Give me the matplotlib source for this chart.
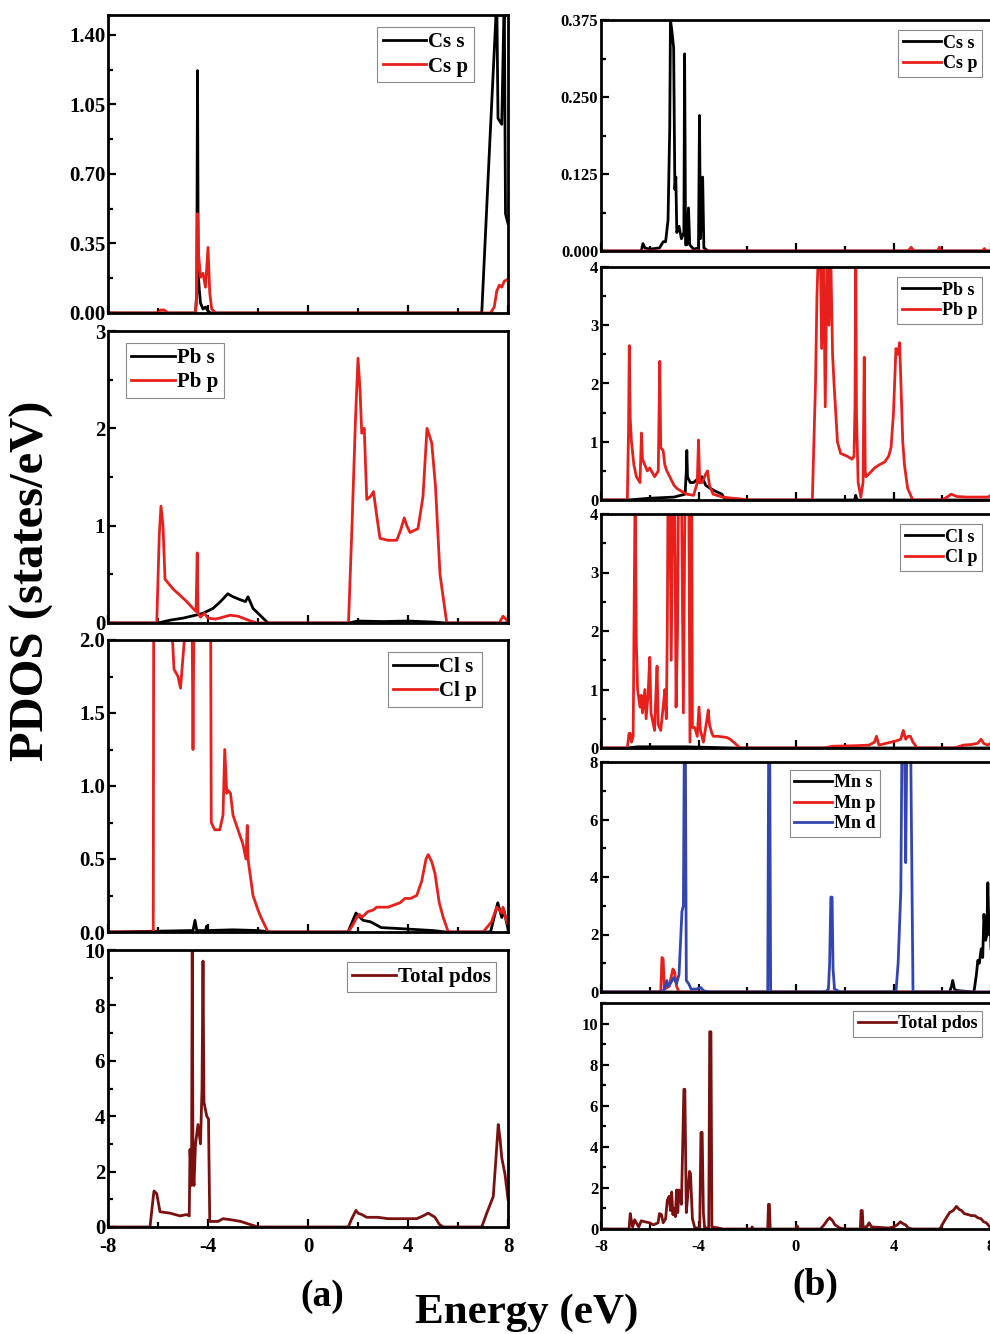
import numpy as np
import matplotlib
matplotlib.use("Agg")
import matplotlib.pyplot as plt
from matplotlib.ticker import AutoMinorLocator

plt.rcParams["font.family"] = ["Liberation Serif", "DejaVu Serif"]
plt.rcParams["font.weight"] = "bold"
plt.rcParams["axes.unicode_minus"] = False

# ---- (a) CsPbCl3 : (energy, pdos) pairs ----
a_cs_s = [(-8, 0), (-4.5, 0), (-4.45, 0.1), (-4.42, 1.22), (-4.39, 0.2), (-4.35, 0.12),
          (-4.3, 0.05), (-4.2, 0.02), (-4.1, 0.03), (-4.0, 0.01), (-3.9, 0), (6.95, 0),
          (7.25, 0.8), (7.5, 1.45), (7.55, 1.6), (7.6, 0.98), (7.75, 0.95), (7.85, 1.6),
          (7.9, 0.5), (8, 0.45)]
a_cs_p = [(-8, 0), (-6.0, 0), (-5.9, 0.015), (-5.75, 0.015), (-5.6, 0), (-4.5, 0),
          (-4.45, 0.1), (-4.42, 0.5), (-4.38, 0.3), (-4.3, 0.18), (-4.2, 0.2), (-4.1, 0.13),
          (-4.0, 0.33), (-3.93, 0.1), (-3.85, 0.02), (-3.7, 0), (7.3, 0), (7.45, 0.03),
          (7.55, 0.11), (7.65, 0.14), (7.75, 0.13), (7.85, 0.16), (8, 0.17)]
a_pb_s = [(-8, 0), (-6.0, 0), (-5.5, 0.03), (-5.0, 0.05), (-4.5, 0.08), (-4.2, 0.1),
          (-3.8, 0.15), (-3.5, 0.22), (-3.21, 0.3), (-3.0, 0.27), (-2.72, 0.24), (-2.5, 0.22),
          (-2.4, 0.27), (-2.2, 0.15), (-1.92, 0.08), (-1.6, 0), (1.6, 0), (2.0, 0.02),
          (3.0, 0.015), (4.0, 0.02), (5.0, 0.01), (5.5, 0), (8, 0)]
a_pb_p = [(-8, 0), (-6.05, 0), (-5.95, 0.9), (-5.88, 1.2), (-5.8, 1.0), (-5.72, 0.45),
          (-5.4, 0.35), (-5.1, 0.28), (-4.85, 0.22), (-4.6, 0.15), (-4.48, 0.12), (-4.43, 0.72),
          (-4.4, 0.1), (-4.3, 0.06), (-4.15, 0.1), (-4.0, 0.05), (-3.7, 0.04), (-3.4, 0.06),
          (-3.12, 0.08), (-2.8, 0.07), (-2.4, 0.03), (-2.04, 0), (1.62, 0), (1.76, 1.0),
          (1.9, 2.1), (2.0, 2.72), (2.08, 2.4), (2.15, 1.95), (2.25, 2.0), (2.35, 1.27),
          (2.5, 1.3), (2.62, 1.35), (2.75, 1.1), (2.88, 0.87), (3.2, 0.85), (3.55, 0.85),
          (3.7, 0.95), (3.85, 1.08), (3.95, 1.0), (4.08, 0.93), (4.4, 0.97), (4.6, 1.3),
          (4.76, 2.0), (4.95, 1.85), (5.1, 1.4), (5.28, 0.5), (5.55, 0), (7.65, 0),
          (7.8, 0.07), (7.95, 0.03), (8, 0)]
a_cl_s = [(-8, 0), (-6.2, 0.005), (-4.6, 0.01), (-4.52, 0.08), (-4.45, 0.01), (-4.1, 0.01),
          (-4.05, 0.04), (-4.0, 0.01), (-3.0, 0.015), (-2.0, 0.01), (-1.5, 0), (1.6, 0),
          (1.92, 0.13), (2.2, 0.08), (2.5, 0.07), (2.93, 0.03), (3.5, 0.025), (4.0, 0.02),
          (5.0, 0.01), (5.5, 0), (7.3, 0), (7.59, 0.2), (7.75, 0.1), (7.85, 0.14), (8, 0.02)]
a_cl_p = [(-8, 0), (-6.19, 0), (-6.17, 2.5), (-5.6, 2.5), (-5.45, 2.1), (-5.36, 1.8),
          (-5.2, 1.75), (-5.1, 1.67), (-4.9, 2.1), (-4.8, 2.5), (-4.65, 2.5), (-4.6, 1.25),
          (-4.55, 2.5), (-4.5, 2.5), (-4.2, 2.5), (-3.9, 2.5), (-3.87, 0.75), (-3.73, 0.7),
          (-3.53, 0.7), (-3.4, 0.8), (-3.33, 1.25), (-3.25, 0.95), (-3.2, 0.97), (-3.1, 0.95),
          (-3.0, 0.8), (-2.8, 0.7), (-2.6, 0.6), (-2.48, 0.5), (-2.43, 0.73), (-2.4, 0.5),
          (-2.2, 0.25), (-2.0, 0.15), (-1.88, 0.1), (-1.6, 0), (1.61, 0), (1.8, 0.05),
          (1.95, 0.1), (2.05, 0.12), (2.15, 0.1), (2.4, 0.14), (2.6, 0.15), (2.75, 0.17),
          (3.2, 0.17), (3.68, 0.2), (3.88, 0.23), (4.1, 0.23), (4.35, 0.25), (4.55, 0.35),
          (4.72, 0.5), (4.81, 0.53), (4.95, 0.48), (5.08, 0.4), (5.25, 0.2), (5.41, 0.1),
          (5.61, 0), (7.0, 0), (7.2, 0.04), (7.34, 0.07), (7.55, 0.17), (7.65, 0.15),
          (7.75, 0.13), (7.8, 0.17), (7.9, 0.1), (8, 0.05)]
a_total = [(-8, 0), (-6.32, 0), (-6.2, 1.0), (-6.16, 1.3), (-6.05, 1.2), (-5.92, 0.55),
           (-5.52, 0.5), (-5.12, 0.4), (-4.85, 0.45), (-4.75, 0.4), (-4.72, 2.8), (-4.66, 1.5),
           (-4.63, 10.0), (-4.6, 2.0), (-4.56, 1.5), (-4.5, 3.0), (-4.4, 3.7), (-4.3, 3.0),
           (-4.24, 5.0), (-4.2, 9.6), (-4.16, 4.5), (-4.05, 4.0), (-3.98, 3.9), (-3.93, 0.2),
           (-3.6, 0.2), (-3.4, 0.3), (-3.0, 0.25), (-2.69, 0.2), (-2.35, 0.1), (-2.0, 0),
           (1.61, 0), (1.75, 0.3), (1.92, 0.6), (2.0, 0.5), (2.15, 0.45), (2.35, 0.35),
           (2.8, 0.35), (3.2, 0.3), (3.68, 0.3), (4.0, 0.3), (4.35, 0.3), (4.6, 0.4),
           (4.81, 0.5), (5.08, 0.35), (5.25, 0.1), (5.41, 0), (6.95, 0), (7.15, 0.5),
           (7.41, 1.1), (7.52, 2.5), (7.61, 3.7), (7.68, 3.2), (7.75, 2.5), (7.88, 1.9), (8, 1.0)]

# ---- (b) Mn doped ----
b_cs_s = [(-8, 0), (-6.35, 0), (-6.28, 0.012), (-6.2, 0.005), (-6.0, 0.003), (-5.6, 0.005),
          (-5.45, 0.015), (-5.35, 0.015), (-5.25, 0.05), (-5.18, 0.2), (-5.15, 0.375),
          (-5.1, 0.36), (-5.02, 0.33), (-4.97, 0.1), (-4.93, 0.12), (-4.89, 0.03), (-4.8, 0.04),
          (-4.7, 0.02), (-4.6, 0.03), (-4.57, 0.32), (-4.53, 0.01), (-4.48, 0.01), (-4.41, 0.07),
          (-4.36, 0.01), (-4.2, 0.003), (-4.0, 0.005), (-3.96, 0.22), (-3.92, 0.02),
          (-3.83, 0.12), (-3.78, 0.005), (-3.6, 0), (8, 0)]
b_cs_p = [(-8, 0), (4.6, 0), (4.72, 0.006), (4.85, 0), (5.8, 0), (5.88, 0.006), (5.95, 0),
          (7.65, 0), (7.73, 0.004), (7.8, 0), (8, 0)]
b_pb_s = [(-8, 0), (-6.9, 0), (-6.0, 0.03), (-5.0, 0.05), (-4.55, 0.1), (-4.5, 0.5),
          (-4.48, 0.85), (-4.45, 0.4), (-4.34, 0.3), (-4.2, 0.3), (-4.07, 0.35), (-3.95, 0.3),
          (-3.86, 0.4), (-3.7, 0.25), (-3.52, 0.2), (-3.3, 0.15), (-3.04, 0.1), (-2.9, 0),
          (2.4, 0), (2.45, 0.08), (2.5, 0), (8, 0)]
b_pb_p = [(-8, 0), (-6.92, 0), (-6.87, 1.2), (-6.84, 2.65), (-6.8, 1.4), (-6.75, 1.0),
          (-6.65, 0.6), (-6.55, 0.4), (-6.4, 0.3), (-6.34, 1.15), (-6.3, 0.7), (-6.2, 0.6),
          (-6.1, 0.5), (-6.0, 0.55), (-5.8, 0.4), (-5.65, 0.5), (-5.59, 2.38), (-5.55, 0.9),
          (-5.45, 0.85), (-5.38, 0.6), (-5.3, 0.5), (-5.18, 0.4), (-5.0, 0.25), (-4.89, 0.2),
          (-4.7, 0.15), (-4.48, 0.1), (-4.2, 0.08), (-4.05, 0.3), (-4.0, 1.03), (-3.95, 0.3),
          (-3.85, 0.3), (-3.7, 0.45), (-3.63, 0.5), (-3.55, 0.25), (-3.4, 0.1), (-3.0, 0.05),
          (-2.6, 0.03), (-2.3, 0.02), (-2.0, 0), (0.67, 0), (0.8, 2.0), (0.86, 3.5), (0.92, 4.3),
          (0.99, 4.5), (1.05, 2.6), (1.12, 4.5), (1.2, 1.6), (1.28, 4.4), (1.35, 3.0),
          (1.42, 4.3), (1.5, 2.5), (1.56, 2.0), (1.7, 1.0), (1.83, 0.8), (2.11, 0.75),
          (2.3, 0.7), (2.38, 0.75), (2.42, 1.6), (2.45, 4.5), (2.48, 1.5), (2.55, 0.3),
          (2.66, 0.05), (2.75, 0.3), (2.8, 2.45), (2.84, 0.5), (2.87, 0.4), (3.0, 0.45),
          (3.22, 0.55), (3.4, 0.6), (3.63, 0.65), (3.8, 0.75), (3.9, 0.9), (4.0, 1.5),
          (4.1, 2.6), (4.18, 2.5), (4.25, 2.7), (4.32, 1.8), (4.38, 1.0), (4.45, 0.6),
          (4.58, 0.2), (4.79, 0), (6.0, 0), (6.2, 0.05), (6.36, 0.1), (6.6, 0.06), (7.0, 0.05),
          (7.5, 0.05), (7.87, 0.05), (8, 0.08)]
b_cl_s = [(-8, 0), (-6.9, 0), (-6.5, 0.02), (-5.5, 0.02), (-4.5, 0.02), (-3.5, 0.01),
          (-2.5, 0), (8, 0)]
b_cl_p = [(-8, 0), (-6.92, 0), (-6.85, 0.25), (-6.8, 0.25), (-6.75, 0.1), (-6.68, 0.2),
          (-6.6, 4.5), (-6.55, 1.8), (-6.5, 1.0), (-6.4, 0.7), (-6.35, 0.9), (-6.3, 0.6),
          (-6.2, 1.0), (-6.15, 0.5), (-6.07, 0.9), (-6.0, 1.55), (-5.95, 0.6), (-5.8, 0.3),
          (-5.75, 0.9), (-5.7, 1.4), (-5.65, 0.4), (-5.55, 0.3), (-5.45, 0.7), (-5.38, 1.0),
          (-5.32, 0.5), (-5.28, 2.0), (-5.25, 4.5), (-5.18, 4.5), (-5.12, 1.5), (-5.05, 4.5),
          (-4.98, 4.5), (-4.92, 0.7), (-4.86, 2.0), (-4.82, 4.5), (-4.7, 4.5), (-4.62, 0.6),
          (-4.55, 4.5), (-4.4, 4.5), (-4.35, 0.1), (-4.28, 4.5), (-4.25, 0.35), (-4.15, 0.35),
          (-4.05, 0.2), (-3.98, 0.7), (-3.92, 0.3), (-3.8, 0.1), (-3.65, 0.5), (-3.6, 0.65),
          (-3.55, 0.4), (-3.45, 0.25), (-3.39, 0.2), (-3.2, 0.2), (-2.84, 0.18), (-2.7, 0.15),
          (-2.56, 0.1), (-2.29, 0), (1.15, 0), (1.5, 0.03), (2.5, 0.04), (3.0, 0.05),
          (3.22, 0.1), (3.3, 0.2), (3.4, 0.05), (3.7, 0.08), (3.9, 0.1), (4.1, 0.12),
          (4.3, 0.15), (4.4, 0.3), (4.5, 0.15), (4.6, 0.2), (4.69, 0.2), (4.8, 0.1), (4.97, 0),
          (6.5, 0), (6.88, 0.05), (7.2, 0.06), (7.45, 0.08), (7.59, 0.15), (7.7, 0.08),
          (7.85, 0.05), (8, 0.08)]
b_mn_s = [(-8, 0), (6.3, 0), (6.38, 0.2), (6.43, 0.4), (6.5, 0.1), (6.6, 0.05), (7.3, 0),
          (7.4, 0.6), (7.46, 1.1), (7.52, 1.0), (7.6, 1.5), (7.66, 1.2), (7.71, 2.7),
          (7.78, 1.8), (7.83, 2.0), (7.87, 3.8), (7.92, 2.0), (7.96, 2.6), (8, 1.5)]
b_mn_p = [(-8, 0), (-5.55, 0), (-5.5, 1.2), (-5.45, 1.15), (-5.4, 0.1), (-5.2, 0.2),
          (-5.05, 0.8), (-4.98, 0.7), (-4.9, 0.2), (-4.8, 0), (8, 0)]
b_mn_d = [(-8, 0), (-5.5, 0), (-5.4, 0.1), (-5.3, 0.4), (-5.25, 0.2), (-5.15, 0.3),
          (-5.02, 0.5), (-4.9, 0.3), (-4.8, 0.6), (-4.75, 1.5), (-4.68, 2.8), (-4.62, 3.0),
          (-4.58, 9), (-4.54, 9), (-4.5, 0.4), (-4.41, 0.3), (-4.3, 0.1), (-4.1, 0.1),
          (-3.9, 0.15), (-3.8, 0.05), (-3.6, 0), (-1.16, 0), (-1.12, 9), (-1.08, 9),
          (-1.04, 0), (1.2, 0), (1.33, 0.1), (1.38, 1.0), (1.43, 3.3), (1.48, 3.3), (1.52, 0.8),
          (1.58, 0.1), (1.7, 0.05), (1.8, 0), (4.1, 0), (4.19, 1.0), (4.3, 3.5), (4.35, 9),
          (4.45, 9), (4.5, 4.5), (4.55, 9), (4.7, 9), (4.8, 0), (8, 0)]
b_total = [(-8, 0), (-6.85, 0), (-6.8, 0.75), (-6.74, 0.3), (-6.7, 0.1), (-6.62, 0.45),
           (-6.55, 0.3), (-6.45, 0.1), (-6.35, 0.4), (-6.2, 0.35), (-6.0, 0.3), (-5.85, 0.2),
           (-5.66, 0.3), (-5.6, 0.75), (-5.52, 0.7), (-5.45, 0.3), (-5.35, 0.5), (-5.28, 1.4),
           (-5.2, 1.6), (-5.15, 0.9), (-5.1, 1.8), (-5.05, 0.7), (-5.0, 1.0), (-4.95, 0.6),
           (-4.9, 1.9), (-4.85, 0.8), (-4.8, 1.9), (-4.7, 1.2), (-4.6, 6.8), (-4.56, 6.8),
           (-4.5, 0.8), (-4.45, 1.5), (-4.37, 2.8), (-4.33, 2.7), (-4.25, 0.5), (-4.15, 0.05),
           (-3.95, 0.05), (-3.9, 4.7), (-3.85, 4.7), (-3.8, 0.8), (-3.75, 0.05), (-3.58, 0.05),
           (-3.54, 9.6), (-3.49, 9.6), (-3.45, 0.1), (-3.2, 0.05), (-3.0, 0), (-1.85, 0),
           (-1.8, 0.1), (-1.75, 0), (-1.16, 0), (-1.13, 1.2), (-1.09, 1.2), (-1.06, 0), (0.0, 0),
           (0.05, 0.15), (0.1, 0), (1.0, 0), (1.15, 0.2), (1.3, 0.45), (1.38, 0.55), (1.5, 0.4),
           (1.6, 0.2), (1.8, 0.05), (2.0, 0), (2.64, 0), (2.67, 0.9), (2.72, 0.9), (2.75, 0.1),
           (2.9, 0.1), (3.0, 0.3), (3.1, 0.1), (3.8, 0.05), (4.0, 0.1), (4.15, 0.2),
           (4.28, 0.35), (4.4, 0.25), (4.5, 0.2), (4.6, 0.05), (4.8, 0), (5.9, 0), (6.09, 0.4),
           (6.3, 0.8), (6.45, 0.9), (6.58, 1.1), (6.7, 0.95), (6.79, 0.9), (6.9, 0.75),
           (7.06, 0.7), (7.2, 0.65), (7.34, 0.65), (7.45, 0.55), (7.59, 0.5), (7.7, 0.35),
           (7.81, 0.3), (7.95, 0.1), (8, 0.05)]

BLACK, RED, BLUE, DRED = "black", "#e8201c", "#3346b0", "#7a1010"

W, H = 990, 1334
fig = plt.figure(figsize=(W / 100, H / 100), dpi=100)


def make_ax(x0, x1, top, bottom):
    return fig.add_axes([x0 / W, 1 - bottom / H, (x1 - x0) / W, (bottom - top) / H])


def style(ax, yticks, fmt, fs, show_x, ylim):
    ax.set_xlim(-8, 8)
    ax.set_ylim(*ylim)
    ax.set_xticks([-8, -4, 0, 4, 8])
    ax.xaxis.set_minor_locator(AutoMinorLocator(2))
    ax.set_yticks(yticks)
    ax.yaxis.set_minor_locator(AutoMinorLocator(2))
    ax.set_yticklabels([fmt.format(v) for v in yticks])
    ax.tick_params(which="both", direction="in", top=False, right=False, width=1.6)
    ax.tick_params(which="major", length=6, labelsize=fs, pad=2)
    ax.tick_params(which="minor", length=3.5)
    ax.tick_params(axis="x", pad=7)
    if not show_x:
        ax.tick_params(axis="x", labelbottom=False)
    for s in ax.spines.values():
        s.set_linewidth(2.0)


def draw(ax, series, lw=2.0):
    for data, color, label in series:
        e, v = np.array(data).T
        ax.plot(e, v, color=color, lw=lw, label=label)


def legend(ax, fs, **kw):
    leg = ax.legend(fontsize=fs, frameon=True, fancybox=False, framealpha=1,
                    edgecolor="#8a8a8a", handlelength=2.1, handletextpad=0.1,
                    borderpad=0.25, labelspacing=0.2, borderaxespad=0.3, **kw)
    leg.get_frame().set_linewidth(0.8)
    for t in leg.get_texts():
        t.set_fontweight("bold")
    return leg


LX0, LX1 = 108, 508
RX0, RX1 = 601, 991
FL, FR = 15, 12
LL, LR = 15, 13

ax = make_ax(LX0, LX1, 15, 313)
draw(ax, [(a_cs_s, BLACK, "Cs s"), (a_cs_p, RED, "Cs p")])
style(ax, [0, 0.35, 0.70, 1.05, 1.40], "{:.2f}", FL, False, (0, 1.5))
legend(ax, LL, loc="upper right", bbox_to_anchor=(0.93, 0.98))

ax = make_ax(LX0, LX1, 331, 623)
draw(ax, [(a_pb_s, BLACK, "Pb s"), (a_pb_p, RED, "Pb p")])
style(ax, [0, 1, 2, 3], "{:d}", FL, False, (0, 3))
legend(ax, LL, loc="upper left", bbox_to_anchor=(0.03, 0.98))

ax = make_ax(LX0, LX1, 640, 932)
draw(ax, [(a_cl_s, BLACK, "Cl s"), (a_cl_p, RED, "Cl p")])
style(ax, [0, 0.5, 1.0, 1.5, 2.0], "{:.1f}", FL, False, (0, 2))
legend(ax, LL, loc="upper right", bbox_to_anchor=(0.95, 0.98))

ax = make_ax(LX0, LX1, 950, 1227)
draw(ax, [(a_total, DRED, "Total pdos")])
style(ax, [0, 2, 4, 6, 8, 10], "{:d}", FL, True, (0, 10))
legend(ax, LL, loc="upper right", bbox_to_anchor=(0.985, 0.98))

ax = make_ax(RX0, RX1, 20, 251)
draw(ax, [(b_cs_s, BLACK, "Cs s"), (b_cs_p, RED, "Cs p")])
style(ax, [0, 0.125, 0.25, 0.375], "{:.3f}", FR, False, (0, 0.375))
legend(ax, LR, loc="upper right", bbox_to_anchor=(0.99, 0.98))

ax = make_ax(RX0, RX1, 267, 500)
draw(ax, [(b_pb_s, BLACK, "Pb s"), (b_pb_p, RED, "Pb p")])
style(ax, [0, 1, 2, 3, 4], "{:d}", FR, False, (0, 4))
legend(ax, LR, loc="upper right", bbox_to_anchor=(0.99, 0.98))

ax = make_ax(RX0, RX1, 514, 748)
draw(ax, [(b_cl_s, BLACK, "Cl s"), (b_cl_p, RED, "Cl p")])
style(ax, [0, 1, 2, 3, 4], "{:d}", FR, False, (0, 4))
legend(ax, LR, loc="upper right", bbox_to_anchor=(0.99, 0.98))

ax = make_ax(RX0, RX1, 762, 992)
draw(ax, [(b_mn_s, BLACK, "Mn s"), (b_mn_p, RED, "Mn p"), (b_mn_d, BLUE, "Mn d")])
style(ax, [0, 2, 4, 6, 8], "{:d}", FR, False, (0, 8))
legend(ax, LR, loc="upper left", bbox_to_anchor=(0.47, 0.99))

ax = make_ax(RX0, RX1, 1003, 1229)
draw(ax, [(b_total, DRED, "Total pdos")])
style(ax, [0, 2, 4, 6, 8, 10], "{:d}", FR, True, (0, 11))
legend(ax, LR, loc="upper right", bbox_to_anchor=(0.99, 0.99))

fig.text(32 / W, 1 - 581 / H, "PDOS (states/eV)", rotation=90, ha="center", va="center",
         fontsize=35, fontweight="bold")
fig.text(527 / W, 1 - 1313 / H, "Energy (eV)", ha="center", va="center",
         fontsize=31, fontweight="bold")
fig.text(322 / W, 1 - 1296 / H, "(a)", ha="center", va="center", fontsize=27, fontweight="bold")
fig.text(815 / W, 1 - 1285 / H, "(b)", ha="center", va="center", fontsize=27, fontweight="bold")

fig.savefig("out.png", dpi=100)
